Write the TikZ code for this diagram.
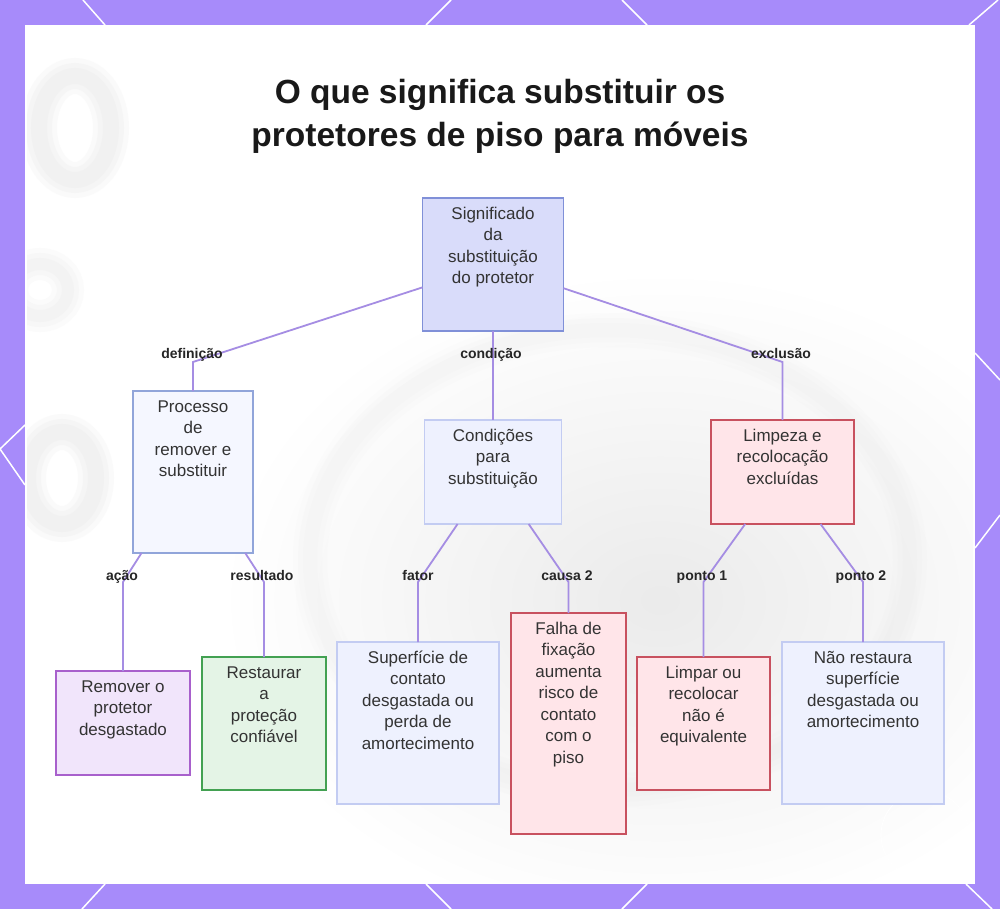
\documentclass[tikz,border=0pt]{standalone}
\usepackage{fontspec}
\setmainfont{Liberation Sans}
\usetikzlibrary{calc}
\definecolor{frame}{HTML}{A78BFA}
\definecolor{edgec}{HTML}{A58DE3}
\definecolor{txt}{HTML}{333333}
\definecolor{rootf}{HTML}{D9DCFA}\definecolor{rootd}{HTML}{8090D8}
\definecolor{procf}{HTML}{F5F7FF}\definecolor{procd}{HTML}{91A5DA}
\definecolor{condf}{HTML}{EEF1FE}\definecolor{condd}{HTML}{C3CCF2}
\definecolor{redf}{HTML}{FFE5E9}\definecolor{redd}{HTML}{C8515F}
\definecolor{purf}{HTML}{F1E5FB}\definecolor{purd}{HTML}{A860CC}
\definecolor{grnf}{HTML}{E4F4E6}\definecolor{grnd}{HTML}{43A152}
\newcommand{\boxtxt}[3]{\parbox[c][#2][t]{#1}{\centering\vspace*{6.35pt}\strut #3}}
\newcommand{\blurring}[3]{%
  \draw[black!10, opacity=0.16*#3, line width=#1+16pt] #2;
  \draw[black!10, opacity=0.2*#3, line width=#1+6pt] #2;
  \draw[black!10, opacity=0.22*#3, line width=#1-4pt] #2;}
\tikzset{
  nbox/.style={draw, line width=1.6pt, inner sep=0pt, outer sep=0pt, text=txt,
    font=\fontsize{17}{21.5}\selectfont},
  rootbox/.style={nbox, fill=rootf, draw=rootd},
  procbox/.style={nbox, fill=procf, draw=procd},
  condbox/.style={nbox, fill=condf, draw=condd},
  redbox/.style={nbox, fill=redf, draw=redd},
  purbox/.style={nbox, fill=purf, draw=purd},
  grnbox/.style={nbox, fill=grnf, draw=grnd},
  edge/.style={draw=edgec, line width=1.8pt},
  elab/.style={anchor=base, inner sep=0pt, text=black!85, font=\fontsize{14}{16}\selectfont\bfseries},
  deco/.style={draw=white, line width=1.5pt}
}
\begin{document}
\begin{tikzpicture}[x=1pt,y=-1pt]
\useasboundingbox (0,0) rectangle (1000,909);
\fill[frame] (0,0) rectangle (1000,909);
% border decorations
\draw[deco] (83,0) -- (105,25);
\draw[deco] (451,0) -- (426,25);
\draw[deco] (622,0) -- (647,25);
\draw[deco] (998,0) -- (969,25);
\draw[deco] (105,884) -- (82,909);
\draw[deco] (426,884) -- (451,909);
\draw[deco] (647,884) -- (622,909);
\draw[deco] (966,884) -- (992,909);
\draw[deco] (25,425) -- (0,449) -- (25,485);
\draw[deco] (975,353) -- (1000,380);
\draw[deco] (975,548) -- (1000,515);
% panel
\fill[white] (25,25) rectangle (975,884);
\begin{scope}
\clip (27,27) rectangle (973,882);
\shade[inner color=black!8, outer color=white] (660,600) ellipse [x radius=440, y radius=330];
\blurring{20pt}{(75,128) ellipse [x radius=36, y radius=52]}{1}
\blurring{16pt}{(40,290) ellipse [x radius=28, y radius=26]}{0.9}
\blurring{20pt}{(62,478) ellipse [x radius=34, y radius=46]}{1}
\blurring{18pt}{(610,560) ellipse [x radius=300, y radius=230]}{0.5}
\end{scope}
\draw[white, line width=0.8pt] (925,835) circle [radius=44];
% title
\node[anchor=north, inner sep=0pt, align=center, text=black!90,
  font=\fontsize{33.5}{43}\selectfont\bfseries] (title) at (500,79.5)
  {O que significa substituir os\\protetores de piso para móveis};
% nodes
\node[rootbox] (root) at (493,264.5) {\boxtxt{141pt}{133pt}{Significado\\da\\substituição\\do protetor}};
\node[procbox] (proc) at (193,472) {\boxtxt{120pt}{162pt}{Processo\\de\\remover e\\substituir}};
\node[condbox] (cond) at (493,472) {\boxtxt{137pt}{104pt}{Condições\\para\\substituição}};
\node[redbox]  (limp) at (782.5,472) {\boxtxt{143pt}{104pt}{Limpeza e\\recolocação\\excluídas}};
\node[purbox]  (remo) at (123,723) {\boxtxt{134pt}{104pt}{Remover o\\protetor\\desgastado}};
\node[grnbox]  (rest) at (264,723.5) {\boxtxt{124pt}{133pt}{Restaurar\\a\\proteção\\confiável}};
\node[condbox] (supe) at (418,723) {\boxtxt{162pt}{162pt}{Superfície de\\contato\\desgastada ou\\perda de\\amortecimento}};
\node[redbox]  (falh) at (568.5,723.5) {\boxtxt{115pt}{221pt}{Falha de\\fixação\\aumenta\\risco de\\contato\\com o\\piso}};
\node[redbox]  (limr) at (703.5,723.5) {\boxtxt{133pt}{133pt}{Limpar ou\\recolocar\\não é\\equivalente}};
\node[condbox] (naor) at (863,723) {\boxtxt{162pt}{162pt}{Não restaura\\superfície\\desgastada ou\\amortecimento}};
% bend points
\coordinate (b1) at (193,362);
\coordinate (b2) at (493,362);
\coordinate (b3) at (782.5,362);
\coordinate (c1) at (123,582);
\coordinate (c2) at (264,582);
\coordinate (c3) at (418,582);
\coordinate (c4) at (568.5,582);
\coordinate (c5) at (703.5,582);
\coordinate (c6) at (863,582);
% edges
\draw[edge] (root) -- (b1) -- (proc);
\draw[edge] (root.south) -- (b2) -- (cond.north);
\draw[edge] (root) -- (b3) -- (limp);
\draw[edge] (proc) -- (c1) -- (remo);
\draw[edge] (proc) -- (c2) -- (rest);
\draw[edge] (cond) -- (c3) -- (supe);
\draw[edge] (cond) -- (c4) -- (falh);
\draw[edge] (limp) -- (c5) -- (limr);
\draw[edge] (limp) -- (c6) -- (naor);
% edge labels
\node[elab] (l1) at (192,358) {definição};
\node[elab] (l2) at (491,358) {condição};
\node[elab] (l3) at (781,358) {exclusão};
\node[elab] (l4) at (122,580) {ação};
\node[elab] (l5) at (262,580) {resultado};
\node[elab] (l6) at (418,580) {fator};
\node[elab] (l7) at (567,580) {causa 2};
\node[elab] (l8) at (702,580) {ponto 1};
\node[elab] (l9) at (861,580) {ponto 2};
\end{tikzpicture}
\end{document}
